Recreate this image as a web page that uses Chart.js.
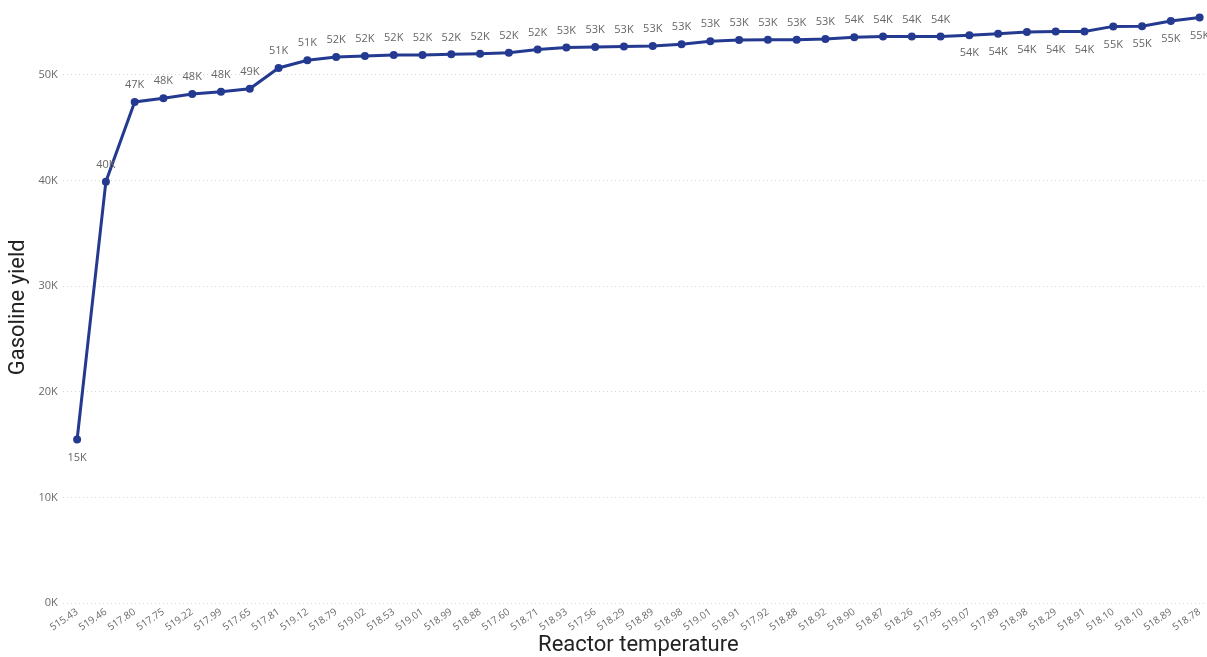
<!DOCTYPE html>
<html>
<head>
<meta charset="utf-8">
<title>Gasoline yield by reactor temperature</title>
<style>
  html, body { margin: 0; padding: 0; background: #fff; overflow: hidden; }
  canvas { display: block; }
</style>
<script src="https://cdn.jsdelivr.net/npm/chart.js@4.4.1/dist/chart.umd.min.js"></script>
</head>
<body>
<canvas id="chart" width="1218" height="657"></canvas>
<script>
// Reactor temperature (category labels, in run order)
const temperatures = [
  '515.43', '519.46', '517.80', '517.75', '519.22', '517.99', '517.65', '517.81',
  '519.12', '518.79', '519.02', '518.53', '519.01', '518.99', '518.88', '517.60',
  '518.71', '518.93', '517.56', '518.29', '518.89', '518.98', '519.01', '518.91',
  '517.92', '518.88', '518.92', '518.90', '518.87', '518.26', '517.95', '519.07',
  '517.89', '518.98', '518.29', '518.91', '518.10', '518.10', '518.89', '518.78'
];

// Gasoline yield for each run
const gasolineYield = [
  15480, 39900, 47450, 47800, 48200, 48400, 48700, 50660,
  51400, 51700, 51800, 51900, 51900, 51950, 52000, 52100,
  52400, 52600, 52650, 52700, 52750, 52900, 53200, 53300,
  53330, 53330, 53400, 53580, 53650, 53650, 53650, 53770,
  53900, 54060, 54120, 54120, 54600, 54620, 55100, 55450
];

// Value axis ticks
const yTickValues = [0, 10000, 20000, 30000, 40000, 50000];
const yAxisMax = 56000;

const formatK = v => Math.round(v / 1000) + 'K';

// Value labels next to every point: above by default, below when
// there is no room at the top or at the start of the climb.
const valueLabels = {
  id: 'valueLabels',
  afterDatasetsDraw(chart) {
    const { ctx, chartArea } = chart;
    const meta = chart.getDatasetMeta(0);
    const values = chart.data.datasets[0].data;
    ctx.save();
    ctx.font = '11px "Open Sans", "Noto Sans", sans-serif';
    ctx.fillStyle = '#666666';
    ctx.textAlign = 'center';
    ctx.textBaseline = 'middle';
    meta.data.forEach((pt, i) => {
      const below = i === 0 || (pt.y - chartArea.top) < 24.3;
      ctx.fillText(formatK(values[i]), pt.x, below ? pt.y + 18 : pt.y - 17);
    });
    ctx.restore();
  }
};

const lineColor = '#243a91';

new Chart(document.getElementById('chart'), {
  type: 'line',
  data: {
    labels: temperatures,
    datasets: [{
      data: gasolineYield,
      borderColor: lineColor,
      backgroundColor: lineColor,
      borderWidth: 3,
      pointRadius: 4,
      pointHoverRadius: 4,
      pointBackgroundColor: lineColor,
      pointBorderWidth: 0,
      tension: 0,
      fill: false
    }]
  },
  options: {
    responsive: false,
    animation: false,
    events: [],
    layout: { padding: { left: 5, top: 5, right: 0, bottom: 0 } },
    plugins: {
      legend: { display: false },
      tooltip: { enabled: false }
    },
    scales: {
      x: {
        offset: true,
        // keep the category band a fixed height so labels and title sit tight under the plot
        afterFit: scale => { scale.height = 54; },
        grid: { display: false },
        border: { display: false },
        ticks: {
          autoSkip: false,
          minRotation: 34,
          maxRotation: 34,
          padding: -5,
          color: '#6a6a6a',
          font: { family: '"Open Sans", "Noto Sans", sans-serif', size: 10 }
        },
        title: {
          display: true,
          text: 'Reactor temperature',
          color: '#222222',
          font: { family: 'Roboto, "DejaVu Sans", sans-serif', size: 22, lineHeight: 1 },
          padding: { top: 0, bottom: 1 }
        }
      },
      y: {
        min: 0,
        max: yAxisMax,
        afterBuildTicks: scale => {
          scale.ticks = yTickValues.map(v => ({ value: v }));
        },
        grid: { color: '#d4d4d4', lineWidth: 1, drawTicks: false },
        border: { display: false, dash: [1, 3] },
        ticks: {
          padding: 5,
          color: '#6a6a6a',
          font: { family: '"Open Sans", "Noto Sans", sans-serif', size: 11 },
          callback: v => formatK(v)
        },
        title: {
          display: true,
          text: 'Gasoline yield',
          color: '#222222',
          font: { family: 'Roboto, "DejaVu Sans", sans-serif', size: 22 },
          padding: { top: 0, bottom: 2 }
        }
      }
    }
  },
  plugins: [valueLabels]
});
</script>
</body>
</html>
